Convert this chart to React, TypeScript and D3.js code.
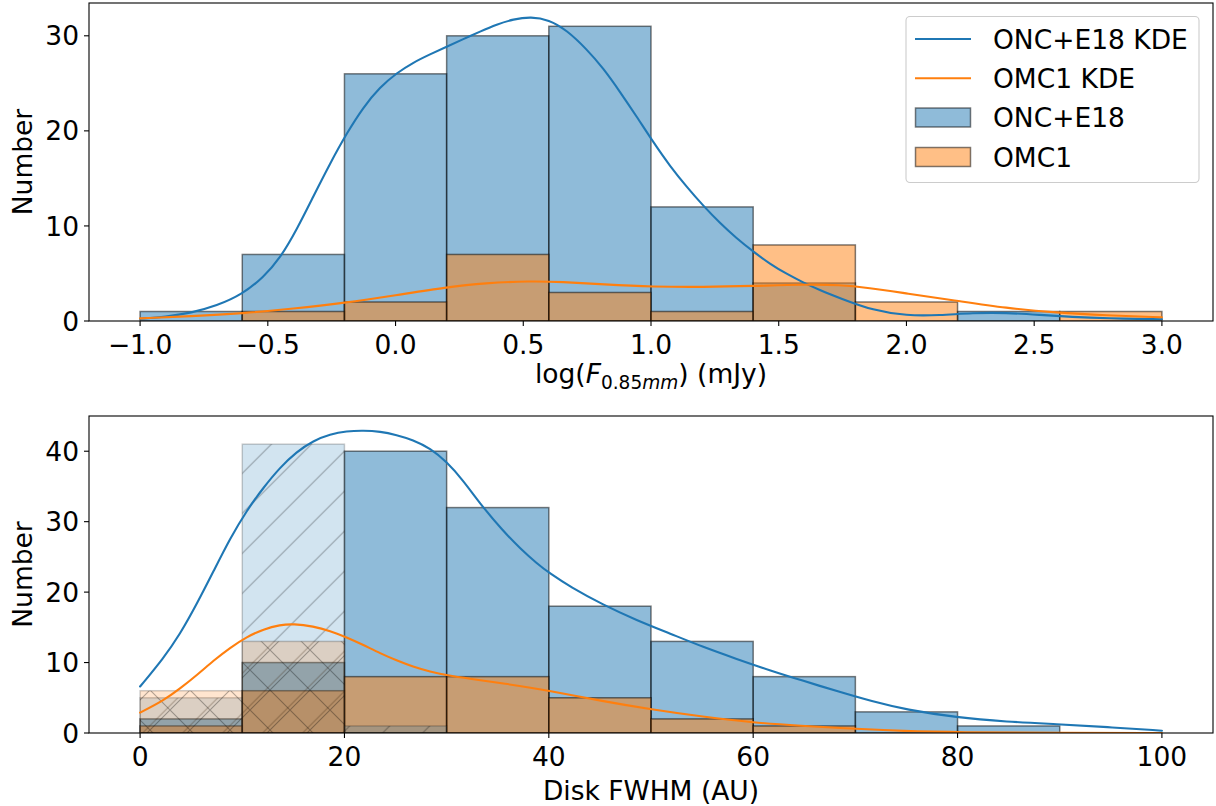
import React from "react";
import * as d3 from "d3";

// ---------- DATA ----------
const fluxEdges = [-1.0, -0.6, -0.2, 0.2, 0.6, 1.0, 1.4, 1.8, 2.2, 2.6, 3.0];
const fluxOnc = [1, 7, 26, 30, 31, 12, 4, 0, 1, 0];
const fluxOmc = [0, 1, 2, 7, 3, 1, 8, 2, 0, 1];

const fwhmEdges = [0, 10, 20, 30, 40, 50, 60, 70, 80, 90, 100];
const fwhmOnc = [2, 10, 40, 32, 18, 13, 8, 3, 1, 0];
const fwhmOmc = [1, 6, 8, 8, 5, 2, 1, 0, 0, 0];
const fwhmOncUnresolved = [5, 41, 1, 0, 0, 0, 0, 0, 0, 0];
const fwhmOmcUnresolved = [6, 13, 0, 0, 0, 0, 0, 0, 0, 0];

const fluxKdeOnc: [number, number][] = [
  [-1.0, 0.24], [-0.9, 0.45], [-0.8, 0.85], [-0.7, 1.6], [-0.6, 2.8], [-0.517, 4.6],
  [-0.452, 6.6], [-0.387, 9.6], [-0.322, 13.1], [-0.256, 16.6], [-0.19, 19.8],
  [-0.126, 22.5], [-0.061, 24.6], [0.005, 26.1], [0.07, 27.2], [0.135, 28.05],
  [0.2, 28.85], [0.265, 29.65], [0.331, 30.45], [0.396, 31.2], [0.461, 31.75],
  [0.53, 32.0], [0.6, 31.7], [0.67, 30.6], [0.748, 28.6], [0.813, 26.6],
  [0.879, 24.1], [0.944, 21.5], [1.009, 18.8], [1.074, 16.3], [1.14, 14.1],
  [1.205, 12.1], [1.27, 10.3], [1.335, 8.7], [1.4, 7.3], [1.466, 6.0], [1.531, 4.95],
  [1.596, 4.05], [1.661, 3.25], [1.74, 2.4], [1.87, 1.1], [2.0, 0.55], [2.13, 0.6],
  [2.26, 0.85], [2.39, 0.87], [2.52, 0.65], [2.65, 0.42], [2.78, 0.28], [3.0, 0.18],
];
const fluxKdeOmc: [number, number][] = [
  [-1.0, 0.28], [-0.8, 0.5], [-0.6, 0.8], [-0.4, 1.3], [-0.2, 1.9], [0.0, 2.7],
  [0.2, 3.55], [0.35, 4.0], [0.526, 4.2], [0.65, 4.12], [0.813, 3.85], [1.009, 3.6],
  [1.205, 3.57], [1.4, 3.68], [1.6, 3.85], [1.74, 3.8], [1.85, 3.5], [2.0, 2.9],
  [2.196, 2.14], [2.39, 1.35], [2.588, 0.88], [2.78, 0.6], [3.0, 0.39],
];
const fwhmKdeOnc: [number, number][] = [
  [0, 6.6], [2.28, 10.6], [3.9, 14.0], [5.55, 18.3], [7.2, 23.0], [8.8, 27.6],
  [10.44, 31.6], [12.1, 34.9], [13.7, 37.7], [15.3, 39.9], [16.96, 41.5], [18.6, 42.4],
  [20.2, 42.85], [21.85, 42.95], [23.5, 42.8], [25.1, 42.3], [26.7, 41.6], [28.4, 40.4],
  [30.0, 38.5], [31.6, 35.9], [33.3, 32.5], [35.5, 28.7], [37.2, 26.2], [38.8, 24.1],
  [40.1, 22.65], [42.1, 20.75], [45.3, 18.2], [48.6, 16.0], [51.9, 14.1], [55.1, 12.2],
  [58.4, 10.5], [61.6, 8.9], [64.9, 7.4], [68.3, 5.9], [71.6, 4.5], [75, 3.3],
  [79.9, 2.2], [84.8, 1.6], [89.7, 1.25], [94.6, 0.85], [100, 0.33],
];
const fwhmKdeOmc: [number, number][] = [
  [0, 2.9], [2.28, 4.6], [3.9, 6.3], [5.55, 8.2], [7.2, 10.3], [8.8, 12.1],
  [10.44, 13.66], [12.1, 14.75], [13.7, 15.35], [15.0, 15.5], [16.96, 15.15], [18.6, 14.5],
  [20.2, 13.6], [21.85, 12.5], [23.5, 11.3], [25.1, 10.3], [26.7, 9.4], [28.4, 8.7],
  [30.0, 8.2], [32.3, 7.7], [35.5, 7.05], [40.1, 6.0], [45.3, 4.5], [50, 3.36],
  [55.1, 2.3], [60, 1.46], [64.9, 1.0], [68.5, 0.7], [75, 0.25], [80, 0.1],
  [90, 0.02], [100, 0.0],
];

const fluxTicks = [-1.0, -0.5, 0.0, 0.5, 1.0, 1.5, 2.0, 2.5, 3.0];
const fluxYTicks = [0, 10, 20, 30];
const fwhmTicks = [0, 20, 40, 60, 80, 100];
const fwhmYTicks = [0, 10, 20, 30, 40];

const legendItems = ["ONC+E18 KDE", "OMC1 KDE", "ONC+E18", "OMC1"];

// ---------- STYLE ----------
const BLUE = "#1f77b4";
const ORANGE = "#ff7f0e";
const FONT = "DejaVu Sans";
const FS = 26.5;

const AX_L = 89, AX_R = 1213;
const TOP = { t: 3, b: 321 };
const BOT = { t: 416, b: 733 };

const xTop = d3.scaleLinear().domain([-1.2, 3.2]).range([AX_L, AX_R]);
const yTop = d3.scaleLinear().domain([0, 33.45]).range([TOP.b, TOP.t]);
const xBot = d3.scaleLinear().domain([-5, 105]).range([AX_L, AX_R]);
const yBot = d3.scaleLinear().domain([0, 45]).range([BOT.b, BOT.t]);

const fmtMinus = (v: number, digits: number) => {
  const s = Math.abs(v).toFixed(digits);
  return v < 0 ? "\u2212" + s : s;
};

function Bars({ edges, counts, x, y, color, fillOpacity, strokeOpacity, pattern }: any) {
  return (
    <g>
      {counts.map((c: number, i: number) => {
        if (c <= 0) return null;
        const x0 = x(edges[i]);
        const x1 = x(edges[i + 1]);
        const y0 = y(c);
        const y1 = y(0);
        return (
          <g key={i}>
            <rect x={x0} y={y0} width={x1 - x0} height={y1 - y0} fill={color} fillOpacity={fillOpacity} />
            {pattern && (
              <rect x={x0} y={y0} width={x1 - x0} height={y1 - y0} fill={`url(#${pattern})`} />
            )}
            <rect x={x0} y={y0} width={x1 - x0} height={y1 - y0} fill="none" stroke="#000" strokeOpacity={strokeOpacity} strokeWidth={1.5} />
          </g>
        );
      })}
    </g>
  );
}

function Curve({ data, x, y, color }: any) {
  const line = d3
    .line<[number, number]>()
    .x((d) => x(d[0]))
    .y((d) => y(d[1]))
    .curve(d3.curveBasis);
  return <path d={line(data) || ""} fill="none" stroke={color} strokeWidth={2.1} strokeLinecap="round" />;
}

function Axes({ x, y, box, xTicks, yTicks, xDigits }: any) {
  return (
    <g fontFamily={FONT} fontSize={FS} fill="#000">
      <rect x={AX_L} y={box.t} width={AX_R - AX_L} height={box.b - box.t} fill="none" stroke="#000" strokeWidth={1.1} />
      {xTicks.map((t: number) => (
        <g key={"x" + t}>
          <line x1={x(t)} x2={x(t)} y1={box.b} y2={box.b + 5} stroke="#000" strokeWidth={1.1} />
          <text x={x(t)} y={box.b + 33} textAnchor="middle">
            {fmtMinus(t, xDigits)}
          </text>
        </g>
      ))}
      {yTicks.map((t: number) => (
        <g key={"y" + t}>
          <line x1={AX_L - 5} x2={AX_L} y1={y(t)} y2={y(t)} stroke="#000" strokeWidth={1.1} />
          <text x={AX_L - 10} y={y(t) + 9.6} textAnchor="end">
            {t}
          </text>
        </g>
      ))}
      <text transform={`translate(32,${(box.t + box.b) / 2}) rotate(-90)`} textAnchor="middle">
        Number
      </text>
    </g>
  );
}

export default function App() {
  return (
    <svg
      width={1216}
      height={806}
      style={{ position: "absolute", left: 0, top: 0, background: "#fff" }}
      xmlns="http://www.w3.org/2000/svg"
    >
      <defs>
        <pattern id="hatchSlash" patternUnits="userSpaceOnUse" width={40} height={40} patternTransform="translate(35.6,0)">
          <path d="M-10,10 L10,-10 M0,40 L40,0 M30,50 L50,30" stroke="#000" strokeOpacity={0.3} strokeWidth={1.1} />
        </pattern>
        <pattern id="hatchCross" patternUnits="userSpaceOnUse" width={40} height={40} patternTransform="translate(10,30)">
          <path
            d="M-10,10 L10,-10 M0,40 L40,0 M30,50 L50,30 M-10,30 L10,50 M0,0 L40,40 M30,-10 L50,10"
            stroke="#000"
            strokeOpacity={0.3}
            strokeWidth={1.1}
          />
        </pattern>
        <clipPath id="clipTop">
          <rect x={AX_L} y={TOP.t} width={AX_R - AX_L} height={TOP.b - TOP.t} />
        </clipPath>
        <clipPath id="clipBot">
          <rect x={AX_L} y={BOT.t} width={AX_R - AX_L} height={BOT.b - BOT.t} />
        </clipPath>
      </defs>
      <rect x={0} y={0} width={1216} height={806} fill="#fff" />

      {/* ---------- Top panel ---------- */}
      <g clipPath="url(#clipTop)">
        <Bars edges={fluxEdges} counts={fluxOnc} x={xTop} y={yTop} color={BLUE} fillOpacity={0.5} strokeOpacity={0.5} />
        <Bars edges={fluxEdges} counts={fluxOmc} x={xTop} y={yTop} color={ORANGE} fillOpacity={0.5} strokeOpacity={0.5} />
        <Curve data={fluxKdeOnc} x={xTop} y={yTop} color={BLUE} />
        <Curve data={fluxKdeOmc} x={xTop} y={yTop} color={ORANGE} />
      </g>
      <Axes x={xTop} y={yTop} box={TOP} xTicks={fluxTicks} yTicks={fluxYTicks} xDigits={1} />
      <text x={(AX_L + AX_R) / 2} y={383} textAnchor="middle" fontFamily={FONT} fontSize={FS}>
        <tspan>log(</tspan>
        <tspan fontStyle="italic">F</tspan>
        <tspan fontSize={FS * 0.7} dy={6}>0.85</tspan>
        <tspan fontSize={FS * 0.7} fontStyle="italic">mm</tspan>
        <tspan dy={-6}>) (mJy)</tspan>
      </text>

      {/* Legend */}
      <g fontFamily={FONT} fontSize={FS}>
        <rect x={906} y={16.5} width={293} height={166} rx={4} fill="#fff" fillOpacity={0.8} stroke="#cccccc" strokeWidth={1.1} />
        <line x1={915} x2={971} y1={39} y2={39} stroke={BLUE} strokeWidth={2.1} />
        <line x1={915} x2={971} y1={78.3} y2={78.3} stroke={ORANGE} strokeWidth={2.1} />
        <rect x={915.5} y={108} width={55} height={19} fill={BLUE} fillOpacity={0.5} stroke="#000" strokeOpacity={0.5} strokeWidth={1.5} />
        <rect x={915.5} y={147.5} width={55} height={19} fill={ORANGE} fillOpacity={0.5} stroke="#000" strokeOpacity={0.5} strokeWidth={1.5} />
        {legendItems.map((t, i) => (
          <text key={t} x={993} y={[39, 78.3, 117.5, 157][i] + 9.6}>
            {t}
          </text>
        ))}
      </g>

      {/* ---------- Bottom panel ---------- */}
      <g clipPath="url(#clipBot)">
        <Bars edges={fwhmEdges} counts={fwhmOnc} x={xBot} y={yBot} color={BLUE} fillOpacity={0.5} strokeOpacity={0.5} />
        <Bars edges={fwhmEdges} counts={fwhmOmc} x={xBot} y={yBot} color={ORANGE} fillOpacity={0.5} strokeOpacity={0.5} />
        <Bars edges={fwhmEdges} counts={fwhmOncUnresolved} x={xBot} y={yBot} color={BLUE} fillOpacity={0.2} strokeOpacity={0.2} pattern="hatchSlash" />
        <Bars edges={fwhmEdges} counts={fwhmOmcUnresolved} x={xBot} y={yBot} color={ORANGE} fillOpacity={0.2} strokeOpacity={0.2} pattern="hatchCross" />
        <Curve data={fwhmKdeOnc} x={xBot} y={yBot} color={BLUE} />
        <Curve data={fwhmKdeOmc} x={xBot} y={yBot} color={ORANGE} />
      </g>
      <Axes x={xBot} y={yBot} box={BOT} xTicks={fwhmTicks} yTicks={fwhmYTicks} xDigits={0} />
      <text x={(AX_L + AX_R) / 2} y={800} textAnchor="middle" fontFamily={FONT} fontSize={FS}>
        Disk FWHM (AU)
      </text>
    </svg>
  );
}
